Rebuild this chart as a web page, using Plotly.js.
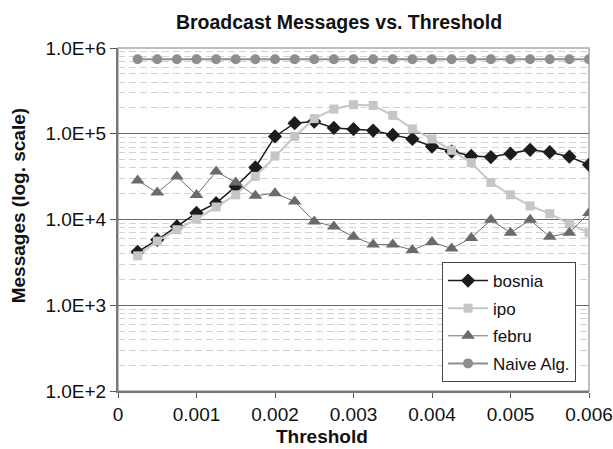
<!DOCTYPE html>
<html>
<head>
<meta charset="utf-8">
<script src="https://cdn.plot.ly/plotly-3.0.1.min.js"></script>
<style>html,body{margin:0;padding:0;background:#fff}#chart{width:613px;height:449px}</style>
</head>
<body>
<div id="chart"></div>
<script>
const threshold = [0.00025, 0.0005, 0.00075, 0.001, 0.00125, 0.0015, 0.00175, 0.002,
                   0.00225, 0.0025, 0.00275, 0.003, 0.00325, 0.0035, 0.00375, 0.004,
                   0.00425, 0.0045, 0.00475, 0.005, 0.00525, 0.0055, 0.00575, 0.006];
const bosnia = [4200, 5800, 8300, 11900, 15500, 24300, 40500, 93000,
                133000, 139000, 117000, 113000, 109000, 97000, 87000, 71000,
                62000, 55000, 53500, 58500, 65000, 61000, 54000, 43500];
const ipo = [3770, 5600, 7600, 10100, 14000, 19400, 31800, 55000,
             93000, 150000, 194000, 218000, 214000, 164000, 114000, 87000,
             64000, 46000, 27000, 19400, 14400, 11700, 8900, 7000];
const febru = [28500, 20600, 31800, 19300, 36300, 27000, 18900, 20300,
               16200, 9500, 8300, 6300, 5100, 5100, 4400, 5450,
               4600, 6100, 9900, 7000, 9900, 6300, 7000, 11900];
const naive = [740000, 740000, 740000, 740000, 740000, 740000, 740000, 740000,
               740000, 740000, 740000, 740000, 740000, 740000, 740000, 740000,
               740000, 740000, 740000, 740000, 740000, 740000, 740000, 740000];
const seriesNames = ["bosnia", "ipo", "febru", "Naive Alg."];
const yTickVals = [100, 1000, 10000, 100000, 1000000];
const yTickText = ["1.0E+2", "1.0E+3", "1.0E+4", "1.0E+5", "1.0E+6"];
const xTickVals = [0, 0.001, 0.002, 0.003, 0.004, 0.005, 0.006];
const xTickText = ["0", "0.001", "0.002", "0.003", "0.004", "0.005", "0.006"];

const FONT = "Liberation Sans, Arial, sans-serif";

const traces = [
  {x: threshold, y: bosnia, name: seriesNames[0], legendgroup: "a", mode: "lines+markers",
   line: {color: "#1c1c1c", width: 1.5},
   marker: {symbol: "diamond", size: 11, color: "#1c1c1c"}},
  {x: threshold, y: ipo, name: seriesNames[1], legendgroup: "b", mode: "lines+markers",
   line: {color: "#c6c6c6", width: 2},
   marker: {symbol: "square", size: 9, color: "#c6c6c6"}},
  {x: threshold, y: febru, name: seriesNames[2], legendgroup: "c", mode: "lines+markers",
   line: {color: "#707070", width: 1},
   marker: {symbol: "triangle-up", size: 12, color: "#6a6a6a"}},
  {x: threshold, y: naive, name: seriesNames[3], legendgroup: "d", mode: "lines+markers",
   line: {color: "#8e8e8e", width: 2},
   marker: {symbol: "circle", size: 10, color: "#8e8e8e"}}
];

const layout = {
  width: 613, height: 449,
  margin: {l: 118, r: 24, t: 48, b: 58, pad: 0},
  paper_bgcolor: "#ffffff", plot_bgcolor: "#ffffff",
  font: {family: FONT, color: "#111", size: 17},
  showlegend: true,
  title: {text: "<b>Broadcast Messages vs. Threshold</b>", font: {family: FONT, size: 19.5, color: "#111"},
          xref: "container", x: 0.553, xanchor: "center", yref: "container", y: 0.951, yanchor: "middle"},
  xaxis: {
    range: [0, 0.006], type: "linear",
    tickmode: "array", tickvals: xTickVals, ticktext: xTickText,
    ticks: "outside", ticklen: 5, tickwidth: 1, tickcolor: "#555",
    showline: true, linecolor: "#777", linewidth: 2,
    showgrid: false, zeroline: false,
    tickfont: {family: FONT, size: 19, color: "#111"}
  },
  yaxis: {
    type: "log", range: [2, 6],
    tickmode: "array", tickvals: yTickVals, ticktext: yTickText,
    ticks: "outside", ticklen: 6, tickwidth: 1, tickcolor: "#555",
    showline: true, linecolor: "#777", linewidth: 2,
    showgrid: true, gridcolor: "#6a6a6a", gridwidth: 1.3,
    minor: {dtick: "D1", showgrid: true, gridcolor: "#d2d2d2", griddash: "7px,4px", gridwidth: 1, ticks: ""},
    zeroline: false,
    tickfont: {family: FONT, size: 19, color: "#111"}
  },
  legend: {
    x: 0.688, y: 0.376, xanchor: "left", yanchor: "top",
    bgcolor: "#ffffff", bordercolor: "#444", borderwidth: 1,
    font: {family: FONT, size: 17, color: "#111"},
    traceorder: "grouped", tracegroupgap: 2.5, itemwidth: 40
  },
  shapes: [
    {type: "rect", xref: "paper", yref: "paper", x0: 0, x1: 1, y0: 0, y1: 1,
     line: {color: "#a8a8a8", width: 1.5}, fillcolor: "rgba(0,0,0,0)", layer: "below"}
  ],
  annotations: [
    {text: "<b>Threshold</b>", xref: "paper", yref: "paper", x: 0.433, y: -0.134,
     xanchor: "center", yanchor: "middle", showarrow: false,
     font: {family: FONT, size: 19, color: "#111"}},
    {text: "<b>Messages (log. scale)</b>", xref: "paper", yref: "paper", x: -0.212, y: 0.539,
     xanchor: "center", yanchor: "middle", textangle: -90, showarrow: false,
     font: {family: FONT, size: 19, color: "#111"}}
  ]
};

Plotly.newPlot("chart", traces, layout, {displayModeBar: false, staticPlot: true});
</script>
</body>
</html>
